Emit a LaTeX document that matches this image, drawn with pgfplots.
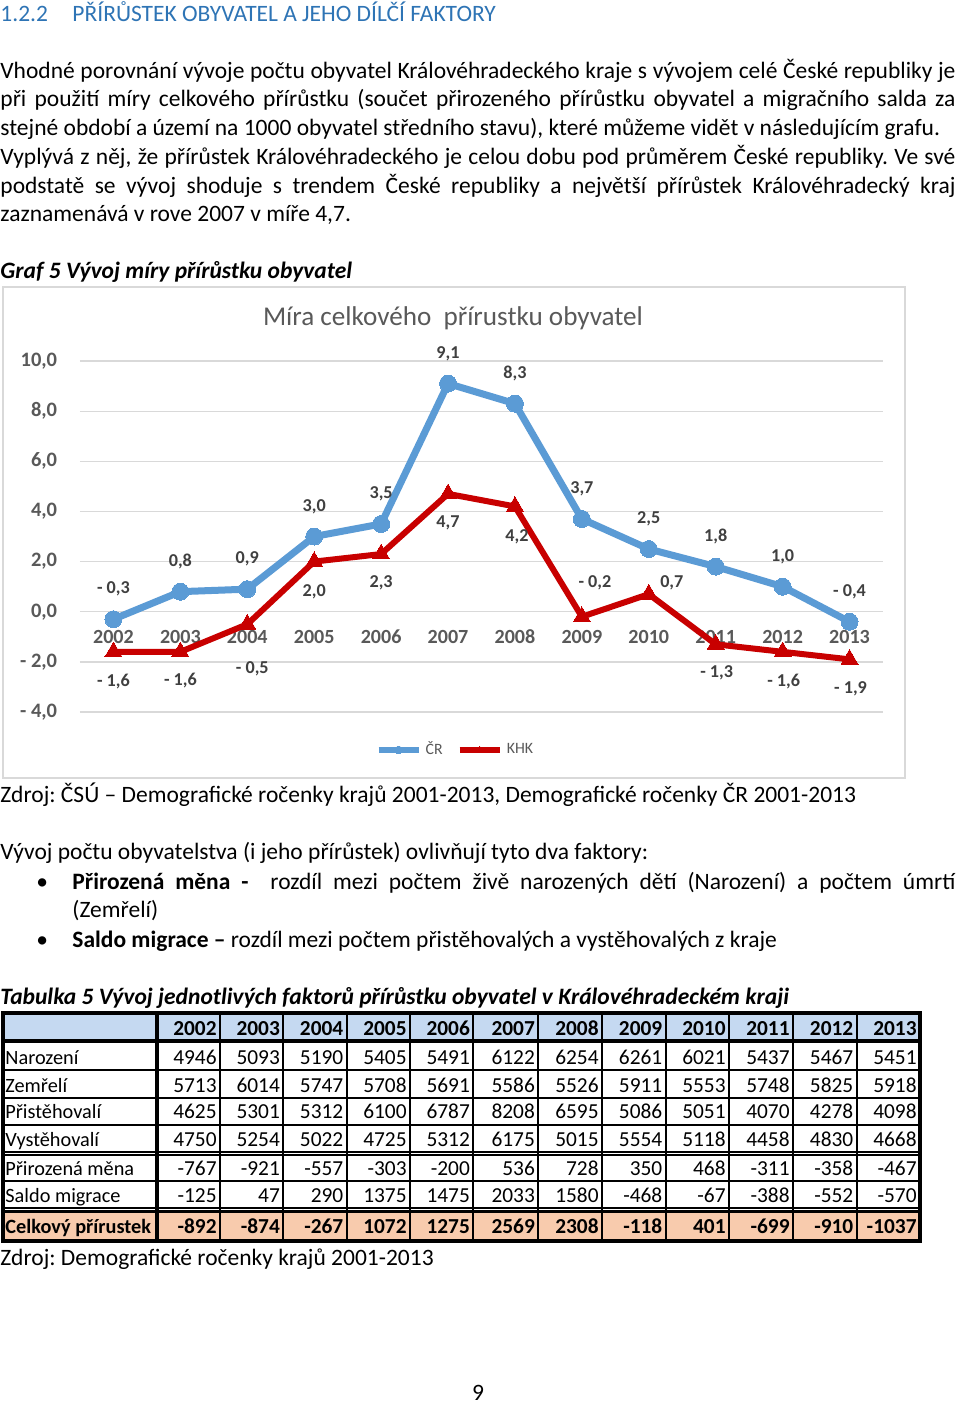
\documentclass[border=0pt]{standalone}
\usepackage{fontspec}
\setmainfont{Carlito}
\usepackage{pgfplots}
\pgfplotsset{compat=1.18}
\usepackage{pgfplotstable}
\frenchspacing
\newlength{\px}
\setlength{\px}{0.4682pt}
\definecolor{crblue}{RGB}{91,155,213}
\definecolor{khkred}{RGB}{200,0,0}
\definecolor{gridgray}{RGB}{217,217,217}
\definecolor{tickgray}{RGB}{89,89,89}
\definecolor{labgray}{RGB}{64,64,64}
\definecolor{headblue}{RGB}{46,116,181}
\definecolor{hdrfill}{RGB}{197,217,241}
\definecolor{totfill}{RGB}{248,203,173}
\definecolor{framegray}{RGB}{217,217,217}

\pgfplotstableread{
x y lab
2002 -0.3 {- 0,3}
2003 0.8 {0,8}
2004 0.9 {0,9}
2005 3.0 {3,0}
2006 3.5 {3,5}
2007 9.1 {9,1}
2008 8.3 {8,3}
2009 3.7 {3,7}
2010 2.5 {2,5}
2011 1.8 {1,8}
2012 1.0 {1,0}
2013 -0.4 {- 0,4}
}\crdata
% dx, dy: label offsets in pt
\pgfplotstableread{
x y lab dx dy
2002 -1.6 {- 1,6} 0 -14.05
2003 -1.6 {- 1,6} 0 -13.58
2004 -0.5 {- 0,5} 2.34 -21.07
2005 2.0 {2,0} 0 -14.05
2006 2.3 {2,3} 0 -13.58
2007 4.7 {4,7} 0 -13.58
2008 4.2 {4,2} 0.94 -14.05
2009 -0.2 {- 0,2} 6.09 15.92
2010 0.7 {0,7} 10.77 5.15
2011 -1.3 {- 1,3} 0.47 -13.11
2012 -1.6 {- 1,6} 0.47 -14.05
2013 -1.9 {- 1,9} 0.47 -13.58
}\khkdata

\begin{document}
\begin{tikzpicture}
\begin{scope}[x=\px, y=-\px]
\path[use as bounding box] (0,0) rectangle (960,1404);
\fill[white] (0,0) rectangle (960,1404);
% heading
\node[anchor=base west, inner sep=0pt, text=headblue, font=\fontsize{11}{13}\selectfont] at (0,21.5) {1.2.2};
\node[anchor=base west, inner sep=0pt, text=headblue, font=\fontsize{11}{13}\selectfont] at (72,21.5) {PŘÍRŮSTEK OBYVATEL A JEHO DÍLČÍ FAKTORY};
% paragraph
\begin{scope}[every node/.style={anchor=base west, inner sep=0pt, font=\fontsize{11}{13.4}\selectfont}]
\node at (0,78) {\makebox[955\px][s]{Vhodné porovnání vývoje počtu obyvatel Královéhradeckého kraje s vývojem celé České republiky je}};
\node at (0,106.5) {\makebox[955\px][s]{při použití míry celkového přírůstku (součet přirozeného přírůstku obyvatel a migračního salda za}};
\node at (0,135) {stejné období a území na 1000 obyvatel středního stavu), které můžeme vidět v následujícím grafu.};
\node at (0,164) {\makebox[955\px][s]{Vyplývá z něj, že přírůstek Královéhradeckého je celou dobu pod průměrem České republiky. Ve své}};
\node at (0,193) {\makebox[955\px][s]{podstatě se vývoj shoduje s~trendem České republiky a největší přírůstek Královéhradecký kraj}};
\node at (0,221.5) {zaznamenává v rove 2007 v míře 4,7.};
\node at (0,278) {\bfseries\itshape Graf 5 Vývoj míry přírůstku obyvatel};
\node at (0,802) {Zdroj: ČSÚ – Demografické ročenky krajů 2001-2013, Demografické ročenky ČR 2001-2013};
\node at (0,859) {Vývoj počtu obyvatelstva (i jeho přírůstek) ovlivňují tyto dva faktory:};
\node at (36,889) {•};
\node at (72,889) {\makebox[883\px][s]{\textbf{Přirozená měna -}\ \ rozdíl mezi počtem živě narozených dětí (Narození) a počtem úmrtí}};
\node at (72,917) {(Zemřelí)};
\node at (36,947) {•};
\node at (72,947) {\textbf{Saldo migrace –} rozdíl mezi počtem přistěhovalých a vystěhovalých z kraje};
\node at (0,1004) {\bfseries\itshape Tabulka 5 Vývoj jednotlivých faktorů přírůstku obyvatel v Královéhradeckém kraji};
\node at (0,1265) {Zdroj: Demografické ročenky krajů 2001-2013};
\node[anchor=base] at (478,1400) {9};
\end{scope}
% chart frame
\draw[framegray, line width=1.5\px] (3,287) rectangle (905,778);
\node[text=tickgray, font=\fontsize{12.7}{15}\selectfont, anchor=center, inner sep=0pt] at (453,318) {Míra celkového\ \ přírustku obyvatel};
% table
\fill[hdrfill] (3,1013) rectangle (920,1041);
\fill[totfill] (3,1211) rectangle (920,1241);
\foreach \yy in {1070,1098,1125,1152,1155,1181,1208} \draw[line width=1.6\px] (3,\yy) -- (920,\yy);
\draw[line width=3.5\px] (3,1041) -- (920,1041);
\draw[line width=3\px] (3,1211) -- (920,1211);
\foreach \xx in {220,283.3,346.7,410,473.3,538.3,602,665.7,729,793,856.7} \draw[line width=2\px] (\xx,1013) -- (\xx,1241);
\draw[line width=3.5\px] (157,1013) -- (157,1241);
\draw[line width=3.5\px] (3,1013) rectangle (920,1241);
\def\colR{{220,283.3,346.7,410,473.3,538.3,602,665.7,729,793,856.7,920}}
\foreach \lab/\yy/\fnt/\vals in {
 {}/1035/\bfseries/{2002,2003,2004,2005,2006,2007,2008,2009,2010,2011,2012,2013},
 Narození/1064/\mdseries/{4946,5093,5190,5405,5491,6122,6254,6261,6021,5437,5467,5451},
 Zemřelí/1092/\mdseries/{5713,6014,5747,5708,5691,5586,5526,5911,5553,5748,5825,5918},
 Přistěhovalí/1118/\mdseries/{4625,5301,5312,6100,6787,8208,6595,5086,5051,4070,4278,4098},
 Vystěhovalí/1146/\mdseries/{4750,5254,5022,4725,5312,6175,5015,5554,5118,4458,4830,4668},
 Přirozená měna/1175/\mdseries/{-767,-921,-557,-303,-200,536,728,350,468,-311,-358,-467},
 Saldo migrace/1202/\mdseries/{-125,47,290,1375,1475,2033,1580,-468,-67,-388,-552,-570},
 Celkový přírustek/1233/\bfseries/{-892,-874,-267,1072,1275,2569,2308,-118,401,-699,-910,-1037}}
{
 \node[anchor=base west, inner sep=0pt, font=\fontsize{9.5}{12}\selectfont\fnt] at (5,\yy) {\lab};
 \foreach \v [count=\i] in \vals {
   \pgfmathsetmacro\cx{\colR[\i-1]-3}
   \node[anchor=base east, inner sep=0pt, font=\fontsize{10}{12}\selectfont\fnt] at (\cx,\yy) {\v};
 }
}
\end{scope}

\begin{axis}[
  at={(37.456pt,-169.02pt)}, anchor=north west,
  scale only axis, width=375.96pt, height=164.34pt,
  xmin=2001.5, xmax=2013.5, ymin=-4, ymax=10,
  clip=false,
  axis line style={draw=none},
  major tick length=0pt,
  ytick={-4,-2,0,2,4,6,8,10},
  yticklabels={{- 4,0},{- 2,0},{0,0},{2,0},{4,0},{6,0},{8,0},{10,0}},
  xtick={2002,2003,2004,2005,2006,2007,2008,2009,2010,2011,2012,2013},
  xticklabels={2002,2003,2004,2005,2006,2007,2008,2009,2010,2011,2012,2013},
  ymajorgrids,
  grid style={gridgray, line width=0.61pt},
  yticklabel style={font=\bfseries\fontsize{9.6}{11}\selectfont, text=tickgray, anchor=east, xshift=-7.2pt},
  xticklabel style={font=\bfseries\fontsize{9.4}{11}\selectfont, text=tickgray, anchor=center, yshift=35.12pt},
  legend style={at={(0.469,-0.108)}, anchor=center, draw=none, fill=none, legend columns=2,
    font=\fontsize{7.4}{9}\selectfont, text=tickgray,
    /tikz/every even column/.append style={column sep=4.68pt}},
  legend image code/.code={\draw[mark repeat=2, mark phase=2, #1, line width=2.6pt, mark size=1.8pt] plot coordinates {(0pt,0pt) (9.36pt,0pt) (18.73pt,0pt)};},
  nodes near coords, point meta=explicit symbolic,
  every node near coord/.style={font=\bfseries\fontsize{8.5}{10}\selectfont, text=labgray, anchor=center, inner sep=0pt},
]
\addplot[crblue, line width=3.28pt, line join=round, mark=*, mark size=3.98pt,
  mark options={fill=crblue, draw=crblue, line width=0pt},
  every node near coord/.append style={yshift=14.05pt}]
  table[x=x, y=y, meta=lab] {\crdata};
\addlegendentry{ČR}
\addplot[khkred, line width=2.81pt, line join=round, mark=triangle*, mark size=4.59pt,
  mark options={fill=khkred, draw=khkred, line width=0pt},
  visualization depends on={\thisrow{dx} \as \ldx},
  visualization depends on={\thisrow{dy} \as \ldy},
  every node near coord/.append style={xshift=\ldx pt, yshift=\ldy pt}]
  table[x=x, y=y, meta=lab] {\khkdata};
\addlegendentry{KHK}
\end{axis}
\end{tikzpicture}
\end{document}
